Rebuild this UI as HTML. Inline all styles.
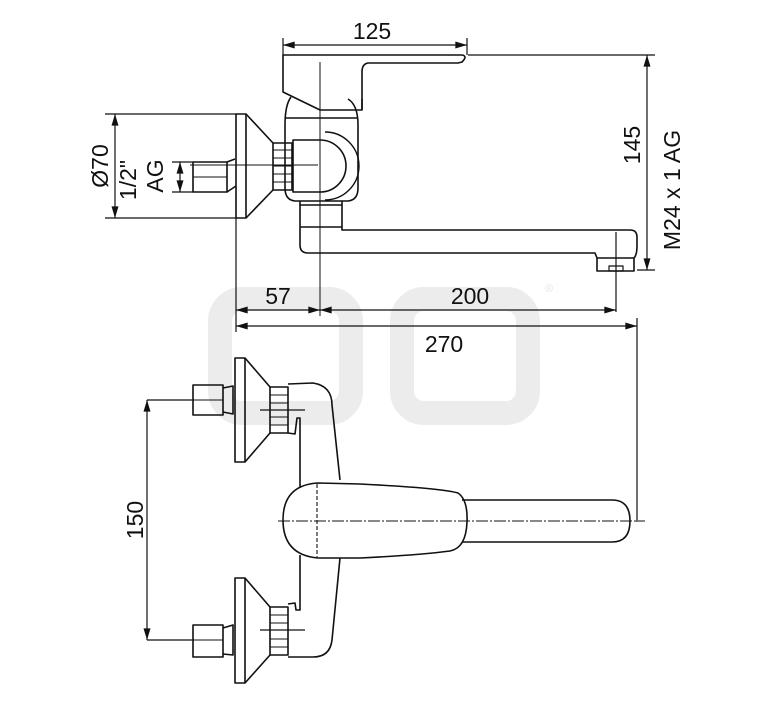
<!DOCTYPE html>
<html><head><meta charset="utf-8"><style>
html,body{margin:0;padding:0;background:#fff;}
svg{display:block;}
text{font-family:"Liberation Sans",sans-serif;fill:#111;}
</style></head><body>
<svg width="767" height="709" viewBox="0 0 767 709" xmlns="http://www.w3.org/2000/svg">
<defs>
<marker id="a" viewBox="0 0 10 6" refX="10" refY="3" markerWidth="14" markerHeight="7" markerUnits="userSpaceOnUse" orient="auto-start-reverse"><path d="M0,0 L10,3 L0,6 z" fill="#111"/></marker>
</defs>
<!-- watermark -->
<g fill="none" stroke="#ececec" stroke-width="24">
<rect x="220" y="299" width="131" height="114" rx="22"/>
<rect x="402" y="299" width="126" height="114" rx="22"/>
</g>
<text x="545" y="292" font-size="11" style="fill:#e4e4e4">®</text>

<g fill="none" stroke="#111" stroke-width="1.6" stroke-linejoin="round">
<!-- TOP VIEW -->
<!-- lever -->
<path d="M283,55 L462,55 Q468,56 462,62 L458,63 L368,63 Q362,64 362,72 L362,110 L320,110 L283,92 Z"/>
<!-- body -->
<path d="M291,97 Q285,105 285,125 L285,188 Q285,200 295,201 L348,201 Q358,200 358,188 L358,125 Q358,105 348,99"/>
<line x1="285" y1="118" x2="358" y2="118"/>
<line x1="362" y1="110" x2="362" y2="99" />
<path d="M293,140 L320,140 A26,26 0 0 1 320,192 L293,192 Z"/>
<path d="M325,132 A34,34 0 0 1 325,200" stroke-width="1.4"/>
<!-- nut -->
<rect x="273" y="143" width="19" height="47"/>
<line x1="273" y1="150" x2="292" y2="150" stroke-width="1"/><line x1="273" y1="158" x2="292" y2="158" stroke-width="1"/>
<line x1="273" y1="166" x2="292" y2="166" stroke-width="1"/><line x1="273" y1="174" x2="292" y2="174" stroke-width="1"/>
<line x1="273" y1="182" x2="292" y2="182" stroke-width="1"/>
<!-- rosette -->
<rect x="236" y="114" width="10" height="104"/>
<path d="M246,114 L273,143 M246,218 L273,190"/>
<!-- connector -->
<rect x="193" y="162" width="34" height="30"/>
<path d="M227,162 L235,159 M227,192 L236,186"/>
<line x1="193" y1="177" x2="227" y2="177" stroke-width="1"/>
<!-- lower body + spout -->
<path d="M300,201 L300,205 L342,205 L342,201"/>
<path d="M300,205 L300,245 Q300,253 308,253 L595,253 L597,258 L597,271 L634,271 L634,258 Q637,255 637,246 L637,237 Q637,230 630,230 L342,230 L342,205"/>
<line x1="300" y1="227" x2="342" y2="227"/>
<line x1="597" y1="258" x2="634" y2="258"/>
<rect x="609" y="266" width="14" height="5" stroke-width="1.2"/>
<!-- centre lines -->
<line x1="320" y1="62" x2="320" y2="316" stroke-width="1"/>
<line x1="190" y1="165" x2="318" y2="165" stroke-width="1"/>
</g>

<!-- dimensions top -->
<g fill="none" stroke="#111" stroke-width="1.2">
<line x1="283" y1="38" x2="283" y2="55"/>
<line x1="467" y1="38" x2="467" y2="55"/>
<line x1="283" y1="45" x2="467" y2="45" marker-start="url(#a)" marker-end="url(#a)"/>
<line x1="468" y1="55" x2="655" y2="55"/>
<line x1="637" y1="270" x2="655" y2="270"/>
<line x1="647" y1="55" x2="647" y2="270" marker-start="url(#a)" marker-end="url(#a)"/>
<line x1="105" y1="114" x2="236" y2="114"/>
<line x1="105" y1="218" x2="236" y2="218"/>
<line x1="115" y1="114" x2="115" y2="218" marker-start="url(#a)" marker-end="url(#a)"/>
<line x1="172" y1="162" x2="193" y2="162"/>
<line x1="172" y1="192" x2="193" y2="192"/>
<line x1="180" y1="162" x2="180" y2="192" marker-start="url(#a)" marker-end="url(#a)"/>
<line x1="236" y1="218" x2="236" y2="332"/>
<line x1="616" y1="232" x2="616" y2="312"/>
<line x1="637" y1="318" x2="637" y2="522"/>
<line x1="236" y1="310" x2="320" y2="310" marker-start="url(#a)" marker-end="url(#a)"/>
<line x1="320" y1="310" x2="616" y2="310" marker-start="url(#a)" marker-end="url(#a)"/>
<line x1="236" y1="326" x2="637" y2="326" marker-start="url(#a)" marker-end="url(#a)"/>
<line x1="147" y1="400" x2="193" y2="400"/>
<line x1="147" y1="640" x2="193" y2="640"/>
<line x1="147" y1="400" x2="147" y2="640" marker-start="url(#a)" marker-end="url(#a)"/>
</g>
<text x="372" y="39" font-size="23" text-anchor="middle">125</text>
<text x="278" y="304" font-size="23" text-anchor="middle">57</text>
<text x="470" y="304" font-size="23" text-anchor="middle">200</text>
<text x="444" y="352" font-size="23" text-anchor="middle">270</text>
<text transform="translate(640,145) rotate(-90)" font-size="23" text-anchor="middle">145</text>
<text transform="translate(680,190) rotate(-90)" font-size="23" text-anchor="middle">M24 x 1 AG</text>
<text transform="translate(108,166) rotate(-90)" font-size="23" text-anchor="middle">Ø70</text>
<text transform="translate(136,180) rotate(-90)" font-size="23" text-anchor="middle">1/2"</text>
<text transform="translate(163,176) rotate(-90)" font-size="23" text-anchor="middle">AG</text>
<text transform="translate(143,520) rotate(-90)" font-size="23" text-anchor="middle">150</text>

<!-- BOTTOM VIEW -->
<g fill="none" stroke="#111" stroke-width="1.6" stroke-linejoin="round">
<!-- upper rosette -->
<rect x="235" y="358" width="10" height="104"/>
<path d="M245,358 L270,387 M245,462 L270,433"/>
<rect x="270" y="387" width="18" height="46"/>
<line x1="270" y1="395" x2="288" y2="395" stroke-width="1"/><line x1="270" y1="403" x2="288" y2="403" stroke-width="1"/>
<line x1="270" y1="417" x2="288" y2="417" stroke-width="1"/><line x1="270" y1="425" x2="288" y2="425" stroke-width="1"/>
<rect x="193" y="385" width="30" height="30"/>
<path d="M223,388 L233,386 L233,414 L223,412"/>
<line x1="193" y1="400" x2="223" y2="400" stroke-width="1"/>
<line x1="260" y1="410" x2="305" y2="410" stroke-width="1.2"/>
<!-- lower rosette -->
<rect x="235" y="578" width="10" height="105"/>
<path d="M245,578 L270,607 M245,683 L270,655"/>
<rect x="270" y="607" width="18" height="48"/>
<line x1="270" y1="615" x2="288" y2="615" stroke-width="1"/><line x1="270" y1="623" x2="288" y2="623" stroke-width="1"/>
<line x1="270" y1="639" x2="288" y2="639" stroke-width="1"/><line x1="270" y1="647" x2="288" y2="647" stroke-width="1"/>
<rect x="193" y="625" width="30" height="32"/>
<path d="M223,628 L233,625 L233,655 L223,654"/>
<line x1="193" y1="640" x2="223" y2="640" stroke-width="1"/>
<line x1="260" y1="630" x2="305" y2="630" stroke-width="1.2"/>
<!-- body -->
<path d="M288,384 L313,383 Q332,386 332,405 L340,480"/>
<path d="M340,558 L332,640 Q330,657 313,657 L288,657"/>
<path d="M288,433 L295,434 L297,418 L300,418 L300,488"/>
<path d="M300,555 L300,610 L296,610 L295,603 L288,604"/>
<!-- lever -->
<path d="M318,483 L360,484 Q440,488 458,493 Q468,500 467,522 Q466,548 450,551 Q420,555 360,558 L318,558 Q283,555 283,520 Q283,485 318,483 Z"/>
<line x1="317" y1="484" x2="317" y2="557" stroke-dasharray="4,2" stroke-width="1.1"/>
<path d="M462,500 L612,500 Q630,500 630,521 Q630,542 612,542 L462,542"/>
<line x1="278" y1="521" x2="645" y2="521" stroke-width="1" stroke-dasharray="12,2,2,2"/>
</g>
</svg>
</body></html>
